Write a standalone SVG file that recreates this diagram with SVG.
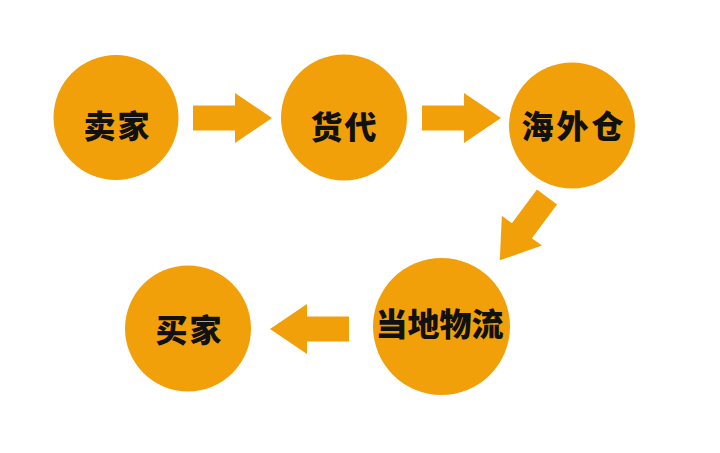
<svg xmlns="http://www.w3.org/2000/svg" xmlns:xlink="http://www.w3.org/1999/xlink" width="720" height="453" viewBox="0 0 720 453">
  <style>
    .node { fill: #F2A00A; }
    .label { font-family: "Noto Sans CJK SC", "Noto Sans", sans-serif; font-weight: 900; font-size: 32px; fill: #111; text-anchor: middle; }
    .arrow { fill: #F2A00A; }
  </style>
  <defs>
    <path id="arr" d="M0,-12.5 H42 V-25 L79,0 L42,25 V12.5 H0 Z"/>
  </defs>
  <rect width="720" height="453" fill="#ffffff"/>
  <g id="connectors" class="arrow">
    <use href="#arr" xlink:href="#arr" transform="translate(193,118)"/>
    <use href="#arr" xlink:href="#arr" transform="translate(422,118)"/>
    <use href="#arr" xlink:href="#arr" transform="translate(547,197) rotate(126.7)"/>
    <use href="#arr" xlink:href="#arr" transform="translate(349,329) rotate(180)"/>
  </g>
  <g id="seller">
    <circle class="node" cx="116" cy="117.5" r="62.5"/>
    <text class="label" x="117.5" y="138" letter-spacing="2">卖家</text>
  </g>
  <g id="forwarder">
    <circle class="node" cx="344" cy="117.5" r="63"/>
    <text class="label" x="344.5" y="139" letter-spacing="2">货代</text>
  </g>
  <g id="overseas-warehouse">
    <circle class="node" cx="572" cy="125.5" r="63"/>
    <text class="label" x="574" y="138" letter-spacing="3">海外仓</text>
  </g>
  <g id="local-logistics">
    <circle class="node" cx="441.5" cy="326.5" r="68.5"/>
    <text class="label" x="439.5" y="336" font-size="30">当地物流</text>
  </g>
  <g id="buyer">
    <circle class="node" cx="188" cy="328.5" r="63"/>
    <text class="label" x="189.5" y="342" letter-spacing="2">买家</text>
  </g>
</svg>
